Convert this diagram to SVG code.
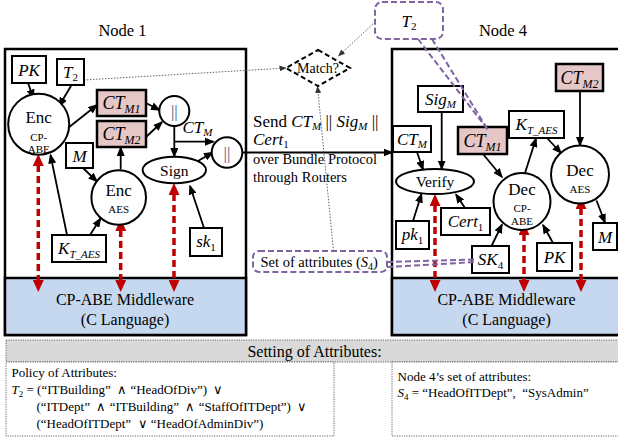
<svg xmlns="http://www.w3.org/2000/svg" width="618" height="441" viewBox="0 0 618 441">
<style>
.t{font-family:"Liberation Serif","Times New Roman",serif;fill:#000}
.i{font-style:italic}
.box{fill:#fff;stroke:#000;stroke-width:2}
.pink{fill:#e6c7c7;stroke:#000;stroke-width:2.5}
.nd{fill:#fff;stroke:#000;stroke-width:2}
.frame{fill:#fff;stroke:#000;stroke-width:2.5}
.mw{fill:#c6d8ef;stroke:#000;stroke-width:2.5}
.arr{stroke:#000;stroke-width:1.8;fill:none;marker-end:url(#ah)}
.red{stroke:#c00000;stroke-width:3.5;stroke-dasharray:7 4;fill:none;marker-start:url(#rh);marker-end:url(#rh)}
.dot{stroke:#555;stroke-width:0.9;stroke-dasharray:1.5 1.5;fill:none;marker-end:url(#dh)}
.pur{stroke:#8064a2;stroke-width:2;stroke-dasharray:6 3;fill:none}
.set{fill:#fff;stroke:#666;stroke-width:1;stroke-dasharray:1.2 1.2}
.bar{fill:#4b5a86}
</style>
<defs>
<marker id="ah" viewBox="0 0 10 8" refX="8.5" refY="4" markerWidth="10" markerHeight="8" markerUnits="userSpaceOnUse" orient="auto"><path d="M0,0 L10,4 L0,8 z" fill="#000"/></marker>
<marker id="rh" viewBox="0 0 12 11" refX="1" refY="5.5" markerWidth="12" markerHeight="11" markerUnits="userSpaceOnUse" orient="auto-start-reverse"><path d="M0,0 L12,5.5 L0,11 z" fill="#c00000"/></marker>
<marker id="dh" viewBox="0 0 7 6" refX="6.5" refY="3" markerWidth="7" markerHeight="6" markerUnits="userSpaceOnUse" orient="auto"><path d="M0,0 L7,3 L0,6 z" fill="#333"/></marker>
</defs>

<!-- frames -->
<g id="node1-frame">
<rect class="frame" x="5" y="49" width="241" height="286"/>
<rect class="mw" x="5" y="278" width="241" height="57"/>
<text class="t" x="125" y="305" font-size="16" text-anchor="middle">CP-ABE Middleware</text>
<text class="t" x="125" y="325" font-size="16" text-anchor="middle">(C Language)</text>
<text class="t" x="122.5" y="36" font-size="16.5" text-anchor="middle">Node 1</text>
</g>
<g id="node4-frame">
<rect class="frame" x="392" y="49" width="232" height="286"/>
<rect class="mw" x="392" y="278" width="232" height="57"/>
<text class="t" x="506.5" y="305" font-size="16" text-anchor="middle">CP-ABE Middleware</text>
<text class="t" x="506.5" y="325" font-size="16" text-anchor="middle">(C Language)</text>
<text class="t" x="503" y="36" font-size="16.5" text-anchor="middle">Node 4</text>
</g>

<!-- settings -->
<g id="settings">
<rect x="6" y="340" width="616" height="22" fill="#d9d9d9" stroke="#666" stroke-width="1" stroke-dasharray="1.2 1.2"/>
<text class="t" x="314.5" y="357" font-size="16" text-anchor="middle">Setting of Attributes:</text>
<rect class="set" x="6" y="362" width="328" height="74"/>
<rect class="set" x="392" y="362" width="230" height="74"/>
<text class="t" x="11.5" y="377" font-size="13">Policy of Attributes:</text>
<text class="t" x="11.5" y="394" font-size="13" xml:space="preserve"><tspan class="i">T</tspan><tspan font-size="9" dy="2.5">2</tspan><tspan dy="-2.5"> = (“ITBuilding”  ∧ “HeadOfDiv”)  ∨</tspan></text>
<text class="t" x="36.5" y="411" font-size="13" xml:space="preserve">(“ITDept”  ∧ “ITBuilding”  ∧ “StaffOfITDept”)  ∨</text>
<text class="t" x="36.5" y="428" font-size="13" xml:space="preserve">(“HeadOfITDept”  ∨ “HeadOfAdminDiv”)</text>
<text class="t" x="397.5" y="381" font-size="13">Node 4’s set of attributes:</text>
<text class="t" x="397.5" y="397" font-size="13" xml:space="preserve"><tspan class="i">S</tspan><tspan font-size="9" dy="2.5">4</tspan><tspan dy="-2.5"> = “HeadOfITDept”,  “SysAdmin”</tspan></text>
</g>

<!-- connectors -->
<g id="connectors">
<path class="arr" d="M28,83 L33.5,98"/>
<path class="arr" d="M71,86 L59,106"/>
<path class="arr" d="M68,128 L97,105"/>
<path class="arr" d="M146,103 L159.5,110"/>
<path class="arr" d="M146,137 L162,122"/>
<path class="arr" d="M120.7,169.5 L120.7,147.5"/>
<path class="arr" d="M83,168 L97,181.5"/>
<path class="arr" d="M174.3,126 L174.3,156.5"/>
<path class="arr" d="M174.3,141.7 L213.5,141.7"/>
<path class="arr" d="M198,161 L212.5,152.5"/>
<path class="arr" d="M242.5,152.5 L392,152.5"/>
<path class="arr" d="M67,235 L50.5,155"/>
<path class="arr" d="M90,235 L100.5,218.5"/>
<path class="arr" d="M204,228 L190,186"/>
<path class="arr" d="M441.7,111.5 L441.7,169"/>
<path class="arr" d="M417,152 L423,169.5"/>
<path class="arr" d="M413,221 L421.5,194"/>
<path class="arr" d="M465,208 L456,194.5"/>
<path class="arr" d="M483,154 L502,177"/>
<path class="arr" d="M525,173 L536,138.5"/>
<path class="arr" d="M547,138 L561,153"/>
<path class="arr" d="M580,91 L580,145.5"/>
<path class="arr" d="M596.5,200.5 L605,222.5"/>
<path class="arr" d="M491.5,246 L502,224.5"/>
<path class="arr" d="M553,243 L543,225"/>
<path class="dot" d="M84,80 L286,68"/>
<path class="dot" d="M375,22 L338.5,56"/>
<path class="dot" d="M333.5,251 L317.5,86.5"/>
<path class="red" d="M38.3,165 L38.3,281"/>
<path class="red" d="M120.7,230 L120.7,281"/>
<path class="red" d="M174,194 L174,281"/>
<path class="red" d="M435,205 L435,281"/>
<path class="red" d="M524,234 L524,281"/>
<path class="red" d="M581,208 L581,281"/>
</g>

<!-- Node 1 contents -->
<g id="pk1box"><rect class="box" x="12" y="56" width="34" height="27"/><text class="t i" x="29" y="76" font-size="17" text-anchor="middle">PK</text></g>
<g id="t2box"><rect class="box" x="57" y="59" width="27" height="26"/><text class="t" x="70.5" y="78" font-size="17" text-anchor="middle"><tspan class="i">T</tspan><tspan font-size="11" dy="3">2</tspan></text></g>
<g id="enc-cpabe"><circle class="nd" cx="38.7" cy="124.2" r="30.5"/><text class="t" x="38.7" y="123" font-size="17" text-anchor="middle">Enc</text><text class="t" x="38.7" y="140.5" font-size="11" text-anchor="middle">CP-</text><text class="t" x="38.7" y="153" font-size="11" text-anchor="middle">ABE</text></g>
<g id="ctm1-n1"><rect class="pink" x="97" y="90" width="49" height="26"/><text class="t i" x="121.5" y="109" font-size="18" text-anchor="middle">CT<tspan font-size="12" dy="4">M1</tspan></text></g>
<g id="ctm2-n1"><rect class="pink" x="97" y="121" width="49" height="26"/><text class="t i" x="121.5" y="140" font-size="18" text-anchor="middle">CT<tspan font-size="12" dy="4">M2</tspan></text></g>
<g id="concat1"><circle class="nd" cx="174.3" cy="111" r="15"/><text class="t bar" x="174.3" y="117" font-size="17" text-anchor="middle">||</text></g>
<g id="concat2"><circle class="nd" cx="227" cy="152.5" r="15.3"/><text class="t bar" x="227" y="158.5" font-size="17" text-anchor="middle">||</text></g>
<g id="ctm-label"><text class="t i" x="182.5" y="133" font-size="17">CT<tspan font-size="11" dy="3">M</tspan></text></g>
<g id="mbox-n1"><rect class="box" x="66" y="143" width="27" height="25"/><text class="t i" x="79.5" y="162" font-size="17" text-anchor="middle">M</text></g>
<g id="sign"><ellipse class="nd" cx="174.3" cy="170" rx="31.7" ry="13.3"/><text class="t" x="174.3" y="175.5" font-size="15.5" text-anchor="middle">Sign</text></g>
<g id="enc-aes"><circle class="nd" cx="118.7" cy="197.5" r="27.3"/><text class="t" x="118.7" y="196" font-size="17" text-anchor="middle">Enc</text><text class="t" x="118.7" y="213" font-size="11" text-anchor="middle">AES</text></g>
<g id="ktaes-n1"><rect class="box" x="52" y="235" width="54" height="27"/><text class="t i" x="79" y="254" font-size="17" text-anchor="middle">K<tspan font-size="11" dy="4">T_AES</tspan></text></g>
<g id="sk1box"><rect class="box" x="190" y="228" width="32" height="28"/><text class="t" x="206" y="247" font-size="17" text-anchor="middle"><tspan class="i">sk</tspan><tspan font-size="11" dy="4">1</tspan></text></g>

<!-- Middle -->
<g id="match"><path d="M318,50 L350,68 L318,86 L286,68 z" fill="#fff" stroke="#000" stroke-width="2" stroke-dasharray="5 3"/><text class="t" x="318" y="73" font-size="14" text-anchor="middle">Match?</text></g>
<g id="send-label">
<text class="t" x="253" y="127" font-size="17">Send <tspan class="i">CT</tspan><tspan class="i" font-size="11" dy="3">M</tspan><tspan dy="-3"> || </tspan><tspan class="i">Sig</tspan><tspan class="i" font-size="11" dy="3">M</tspan><tspan dy="-3"> ||</tspan></text>
<text class="t" x="253" y="145" font-size="17"><tspan class="i">Cert</tspan><tspan font-size="11" dy="3">1</tspan></text>
<text class="t" x="253" y="164" font-size="14.5">over Bundle Protocol</text>
<text class="t" x="253" y="182" font-size="14.5">through Routers</text>
</g>

<!-- Node 4 contents -->
<g id="sigm"><rect class="box" x="418" y="86" width="45" height="26"/><text class="t i" x="440.5" y="105" font-size="17" text-anchor="middle">Sig<tspan font-size="11" dy="3">M</tspan></text></g>
<g id="ctm-n4"><rect class="box" x="393" y="126" width="38" height="26"/><text class="t i" x="412" y="145" font-size="17" text-anchor="middle">CT<tspan font-size="11" dy="3">M</tspan></text></g>
<g id="ctm1-n4"><rect class="pink" x="458" y="127" width="49" height="27"/><text class="t i" x="482.5" y="146.5" font-size="18" text-anchor="middle">CT<tspan font-size="12" dy="4">M1</tspan></text></g>
<g id="ktaes-n4"><rect class="box" x="509" y="111" width="55" height="27"/><text class="t i" x="536.5" y="130" font-size="17" text-anchor="middle">K<tspan font-size="11" dy="4">T_AES</tspan></text></g>
<g id="ctm2-n4"><rect class="pink" x="556" y="64" width="47" height="27"/><text class="t i" x="579.5" y="83.5" font-size="18" text-anchor="middle">CT<tspan font-size="12" dy="4">M2</tspan></text></g>
<g id="verify"><ellipse class="nd" cx="435" cy="181.5" rx="39" ry="12.5"/><text class="t" x="435" y="187" font-size="15.5" text-anchor="middle">Verify</text></g>
<g id="dec-cpabe"><circle class="nd" cx="522" cy="201.5" r="28.5"/><text class="t" x="522" y="195" font-size="17" text-anchor="middle">Dec</text><text class="t" x="522" y="212" font-size="11" text-anchor="middle">CP-</text><text class="t" x="522" y="225" font-size="11" text-anchor="middle">ABE</text></g>
<g id="dec-aes"><circle class="nd" cx="580" cy="174.5" r="29"/><text class="t" x="580" y="176" font-size="17" text-anchor="middle">Dec</text><text class="t" x="580" y="193" font-size="11" text-anchor="middle">AES</text></g>
<g id="pk1small"><rect class="box" x="396" y="221" width="33" height="28"/><text class="t" x="412.5" y="240" font-size="17" text-anchor="middle"><tspan class="i">pk</tspan><tspan font-size="11" dy="4">1</tspan></text></g>
<g id="cert1"><rect class="box" x="441" y="208" width="49" height="27"/><text class="t" x="465.5" y="227" font-size="17" text-anchor="middle"><tspan class="i">Cert</tspan><tspan font-size="11" dy="4">1</tspan></text></g>
<g id="sk4"><rect class="box" x="472" y="246" width="37" height="27"/><text class="t" x="490.5" y="265" font-size="17" text-anchor="middle"><tspan class="i">SK</tspan><tspan font-size="11" dy="4">4</tspan></text></g>
<g id="pk-n4"><rect class="box" x="537" y="243" width="35" height="28"/><text class="t i" x="554.5" y="263" font-size="17" text-anchor="middle">PK</text></g>
<g id="m-n4"><rect class="box" x="593" y="223" width="24" height="27"/><text class="t i" x="605" y="242.5" font-size="17" text-anchor="middle">M</text></g>

<!-- callouts -->
<g id="t2-callout">
<rect class="pur" x="375" y="2" width="68" height="37" rx="7"/>
<path class="pur" d="M418,39 L488,130 M432,39 L488,130"/>
<text class="t" x="409" y="27" font-size="17" text-anchor="middle"><tspan class="i">T</tspan><tspan font-size="11" dy="3">2</tspan></text>
</g>
<g id="s4-callout">
<rect class="pur" x="253" y="251" width="134" height="21" rx="6"/>
<path class="pur" d="M387,262 L476,259.5 M387,267 L476,262"/>
<text class="t" x="260.5" y="266.5" font-size="14.5">Set of attributes (<tspan class="i">S</tspan><tspan font-size="10" dy="3">4</tspan><tspan dy="-3">)</tspan></text>
</g>
</svg>
